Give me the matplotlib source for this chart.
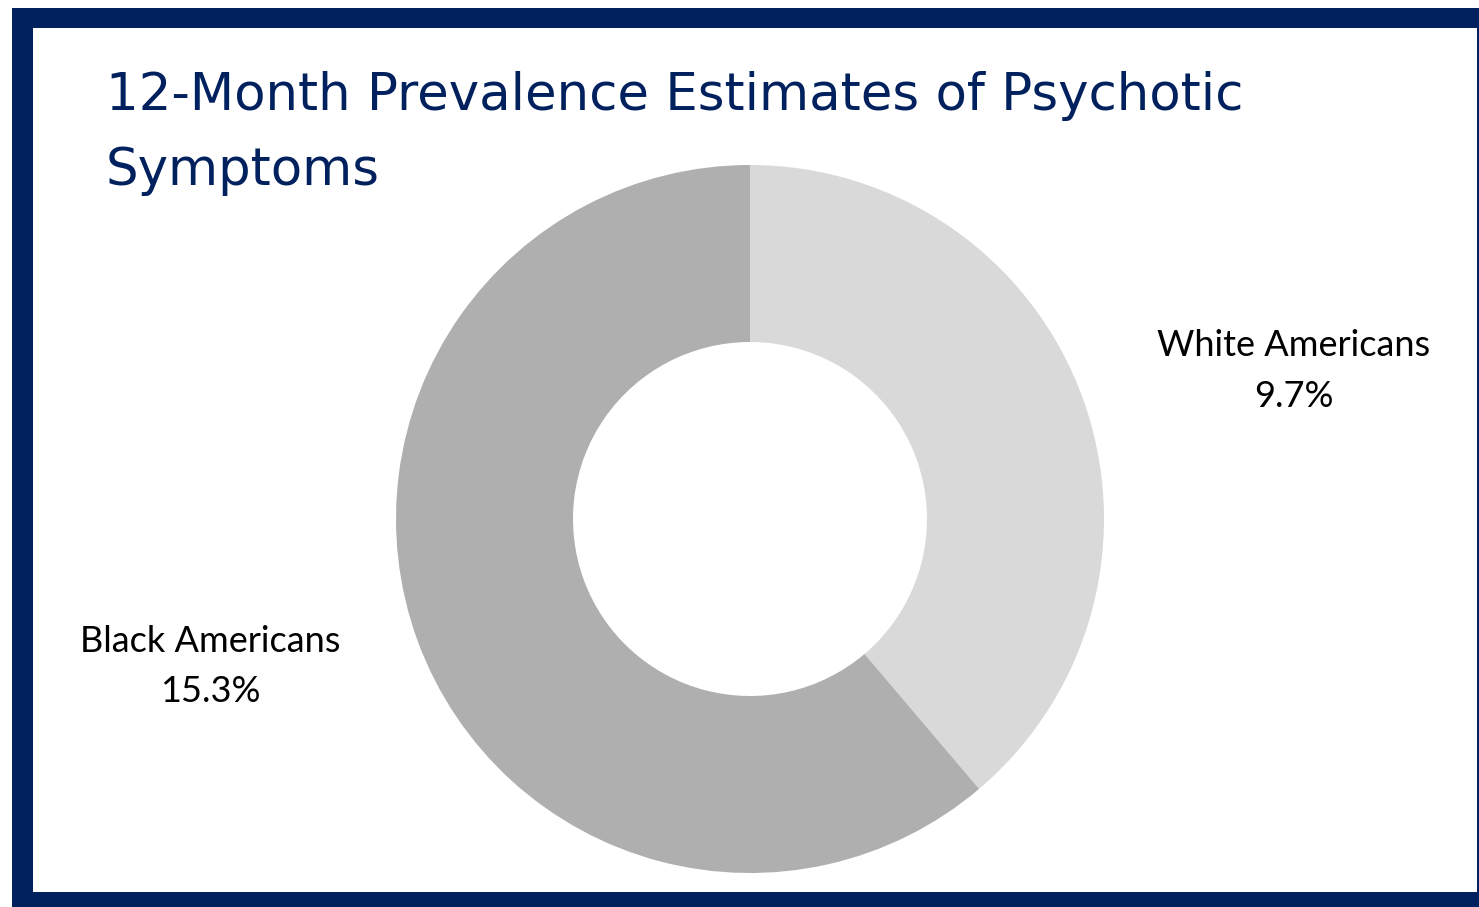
import matplotlib
matplotlib.use("Agg")
import matplotlib.pyplot as plt
from matplotlib.patches import Rectangle

# Data
categories = ["White Americans", "Black Americans"]
values = [9.7, 15.3]
value_labels = ["9.7%", "15.3%"]
colors = ["#d9d9d9", "#afafaf"]
title_lines = ["12-Month Prevalence Estimates of Psychotic", "Symptoms"]

W, H = 1479, 907
fig = plt.figure(figsize=(W / 100, H / 100), dpi=100)
fig.patch.set_facecolor("white")

navy = "#00215e"
# frame
fig.patches.append(Rectangle((12 / W, 0), 1 - 12 / W, 1 - 8 / H, transform=fig.transFigure,
                             facecolor=navy, edgecolor="none", zorder=-2))
fig.patches.append(Rectangle((33 / W, (H - 892) / H), (1477 - 33) / W, (892 - 28) / H,
                             transform=fig.transFigure, facecolor="white", edgecolor="none", zorder=-1))

# donut
cx, cy, r = 750, 519, 354
ax = fig.add_axes([(cx - r) / W, (H - cy - r) / H, 2 * r / W, 2 * r / H])
ax.set_zorder(5)
ax.patch.set_visible(False)
ax.pie(values, colors=colors, startangle=90, counterclock=False, radius=1,
       wedgeprops=dict(width=0.5, edgecolor="none"))
ax.set_xlim(-1, 1)
ax.set_ylim(-1, 1)
ax.set_aspect("equal")
ax.axis("off")

# title
for line, y in zip(title_lines, [96, 171]):
    fig.text(106 / W, 1 - y / H, line, fontsize=37,
             color=navy, family="DejaVu Sans", va="center", ha="left")

# labels
lab_pos = [(1294, 345, 396), (210, 642, 692)]
for (x, y1, y2), cat, vl in zip(lab_pos, categories, value_labels):
    fig.text(x / W, 1 - y1 / H, cat, fontsize=26, color="black", ha="center", va="center",
             family="Lato")
    fig.text(x / W, 1 - y2 / H, vl, fontsize=26, color="black", ha="center", va="center",
             family="Lato")

fig.savefig("out.png", dpi=100, facecolor=fig.get_facecolor())
